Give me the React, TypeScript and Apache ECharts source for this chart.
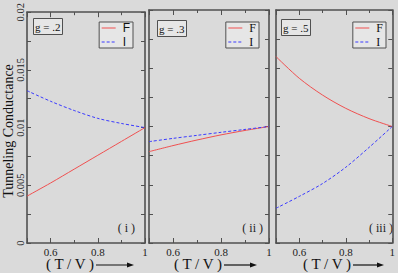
import React, { useEffect, useRef } from "react";
import * as echarts from "echarts";

const xs = [0.5, 0.6, 0.7, 0.8, 0.9, 1.0];
const f1 = [0.00406, 0.0052, 0.0064, 0.0076, 0.0088, 0.01];
const i1 = [0.0132, 0.01228, 0.01148, 0.0108, 0.01036, 0.01];
const f2 = [0.00784, 0.00836, 0.00884, 0.00928, 0.00966, 0.01];
const i2 = [0.0087, 0.00898, 0.00924, 0.0095, 0.00975, 0.01];
const f3 = [0.016, 0.01414, 0.0127, 0.01156, 0.01068, 0.01];
const i3 = [0.00298, 0.004, 0.0051, 0.0065, 0.0082, 0.01];
const xTickLabels = ["0.6", "0.8", "1"];
const yTickLabels = ["0", "0.005", "0.01", "0.015", "0.02"];
const gLabels = ["g = .2", "g = .3", "g = .5"];
const panelLabels = ["( i )", "( ii )", "( iii )"];
const seriesNames = ["F", "I"];

const FONT = '"Liberation Serif", "Times New Roman", serif';
const FRAME = "#505050";
const BG = "#dadada";

const grids = [
  { left: 27, width: 118 },
  { left: 149, width: 120 },
  { left: 276, width: 119 },
];

export default function App() {
  const ref = useRef<HTMLDivElement>(null);
  useEffect(() => {
    if (!ref.current) return;
    const chart = echarts.init(ref.current, undefined, { renderer: "svg" });
    const panels = [
      [f1, i1],
      [f2, i2],
      [f3, i3],
    ];
    const xAxis: any[] = [];
    const yAxis: any[] = [];
    const series: any[] = [];
    const legend: any[] = [];
    const title: any[] = [];
    const graphic: any[] = [];
    const lineCommon = { show: true, onZero: false, lineStyle: { color: FRAME, width: 1.6 } };
    grids.forEach((g, gi) => {
      const xLab = (v: number) => {
        const s = String(Math.round(v * 10) / 10);
        const k = xTickLabels.indexOf(s);
        return k >= 0 ? xTickLabels[k] : "";
      };
      xAxis.push({
        type: "value", gridIndex: gi, position: "bottom", min: 0.5, max: 1, interval: 0.1,
        axisLine: lineCommon,
        axisTick: { show: true, inside: true, length: 3, lineStyle: { color: FRAME } },
        axisLabel: {
          show: true, margin: 3, fontFamily: FONT, fontSize: 11, color: "#222",
          formatter: xLab, showMinLabel: true, showMaxLabel: true,
        },
        splitLine: { show: false },
      });
      xAxis.push({
        type: "value", gridIndex: gi, position: "bottom", inverse: true, min: 0, max: 0.5, interval: 0.2,
        axisLine: { show: false, onZero: false },
        axisTick: { show: true, inside: true, length: 5, lineStyle: { color: FRAME } },
        axisLabel: { show: false }, splitLine: { show: false },
      });
      xAxis.push({
        type: "value", gridIndex: gi, position: "top", min: 0.5, max: 1, interval: 0.1,
        axisLine: lineCommon,
        axisTick: { show: true, inside: true, length: 3, lineStyle: { color: FRAME } },
        axisLabel: { show: false }, splitLine: { show: false },
      });
      xAxis.push({
        type: "value", gridIndex: gi, position: "top", inverse: true, min: 0, max: 0.5, interval: 0.2,
        axisLine: { show: false, onZero: false },
        axisTick: { show: true, inside: true, length: 5, lineStyle: { color: FRAME } },
        axisLabel: { show: false }, splitLine: { show: false },
      });
      yAxis.push({
        type: "value", gridIndex: gi, position: "left", min: 0, max: 0.02, interval: 0.005,
        axisLine: lineCommon,
        axisTick: { show: true, inside: true, length: 4, lineStyle: { color: FRAME } },
        minorTick: { show: true, splitNumber: 2, length: 4, lineStyle: { color: FRAME } },
        axisLabel: {
          show: gi === 0, rotate: 90, margin: 1, fontFamily: FONT, fontSize: 10.5, color: "#222",
          formatter: (v: number) => yTickLabels[Math.round(v / 0.005)] ?? "",
        },
        splitLine: { show: false },
      });
      yAxis.push({
        type: "value", gridIndex: gi, position: "right", min: 0, max: 0.02, interval: 0.005,
        axisLine: lineCommon,
        axisTick: { show: true, inside: true, length: 4, lineStyle: { color: FRAME } },
        minorTick: { show: true, splitNumber: 2, length: 4, lineStyle: { color: FRAME } },
        axisLabel: { show: false }, splitLine: { show: false },
      });
      const [fv, iv] = panels[gi];
      series.push({
        type: "line", name: seriesNames[0], xAxisIndex: gi * 4, yAxisIndex: gi * 2,
        data: xs.map((x, k) => [x, fv[k]]), smooth: 0.3, symbol: "none",
        lineStyle: { color: "#f05050", width: 1 }, itemStyle: { color: "#f05050" },
      });
      series.push({
        type: "line", name: seriesNames[1], xAxisIndex: gi * 4, yAxisIndex: gi * 2,
        data: xs.map((x, k) => [x, iv[k]]), smooth: 0.3, symbol: "none",
        lineStyle: { color: "#3a3aff", width: 1, type: [3, 2] }, itemStyle: { color: "#3a3aff" },
      });
      const legRight = [265, 139, 12][gi];
      legend.push({
        data: seriesNames, orient: "vertical", right: legRight, top: 22,
        itemWidth: 14, itemHeight: 8, itemGap: 2, padding: [0, 3, 0, 2],
        selectedMode: false,
        itemStyle: { opacity: 0 },
        lineStyle: { width: 1 },
        borderColor: FRAME, borderWidth: 1, backgroundColor: "#e6e6e6",
        textStyle: {
          fontFamily: gi === 0 ? '"Liberation Sans", Arial, sans-serif' : FONT,
          fontSize: 12, color: "#111", lineHeight: 12, padding: [0, 0, 0, 2],
        },
      });
      const gx = [33, 157, 281][gi];
      const gy = [18, 20, 19][gi];
      title.push({
        text: gLabels[gi], left: gx, top: gy, padding: [3, 2],
        borderColor: FRAME, borderWidth: 1, backgroundColor: "#e6e6e6",
        textStyle: { fontFamily: FONT, fontSize: 11, fontWeight: "normal", color: "#111", lineHeight: 11 },
      });
      const plx = [135, 263, 393][gi];
      graphic.push({
        type: "text", x: plx, y: 228,
        style: { text: panelLabels[gi], font: `12px ${FONT}`, fill: "#222", textAlign: "right", textVerticalAlign: "middle" },
      });
      const tx = [46, 174, 303][gi];
      graphic.push({
        type: "text", x: tx, y: 264,
        style: { text: "( T / V )", font: `15px ${FONT}`, fill: "#111", textAlign: "left", textVerticalAlign: "middle" },
      });
      const ax1 = [96, 224, 353][gi];
      const ax2 = [134, 257, 384][gi];
      graphic.push({
        type: "line", shape: { x1: ax1, y1: 265, x2: ax2 - 4, y2: 265 },
        style: { stroke: "#111", lineWidth: 1.2 },
      });
      graphic.push({
        type: "polygon", shape: { points: [[ax2, 265], [ax2 - 7, 262.5], [ax2 - 7, 267.5]] },
        style: { fill: "#111" },
      });
    });
    graphic.push({
      type: "text", x: 8, y: 131, rotation: Math.PI / 2,
      style: { text: "Tunneling Conductance", font: `14px ${FONT}`, fill: "#111", textAlign: "center", textVerticalAlign: "middle" },
    });
    chart.setOption({
      animation: false,
      backgroundColor: BG,
      grid: grids.map((g) => ({ left: g.left, width: g.width, top: 10, height: 233, containLabel: false })),
      xAxis, yAxis, series, legend, title, graphic,
    });
    return () => chart.dispose();
  }, []);
  return (
    <div
      ref={ref}
      style={{ position: "absolute", left: 0, top: 0, width: 398, height: 273, background: BG }}
    />
  );
}
